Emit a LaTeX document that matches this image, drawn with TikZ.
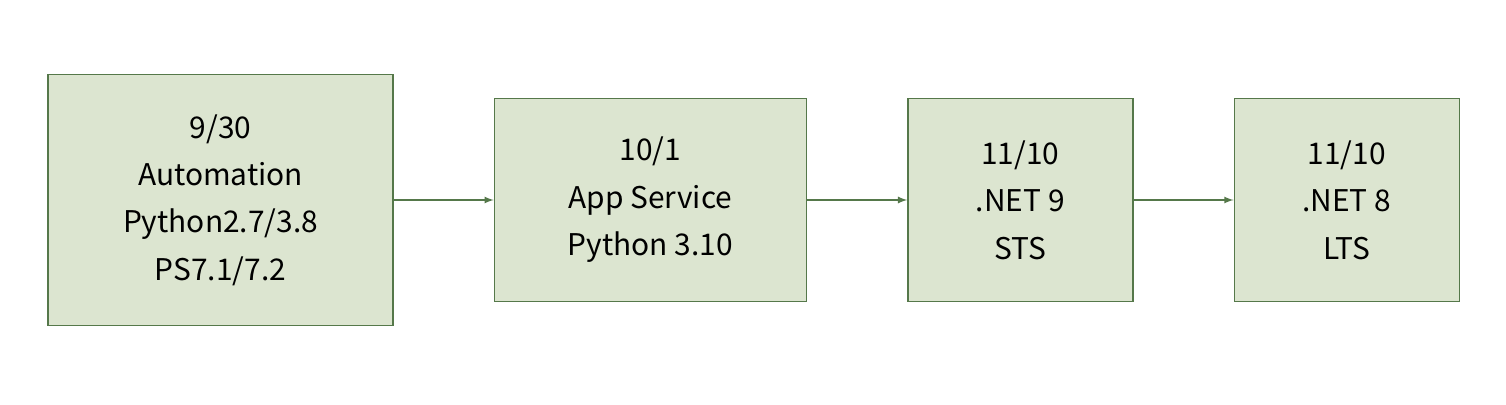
\documentclass[tikz,border=0pt]{standalone}
\usepackage{fontspec}
\setmainfont{Noto Sans CJK JP}
\usetikzlibrary{positioning,arrows}
\definecolor{boxfill}{HTML}{DCE5D0}
\definecolor{boxline}{HTML}{55784A}
\tikzset{>=latex}

\begin{document}
\begin{tikzpicture}[stage/.style = {rectangle, draw=boxline, fill=boxfill, thick, align=center, minimum height=4.06cm, font=\fontsize{17}{27}\selectfont}, -latex]
				\useasboundingbox (0,0) rectangle (30.12,8.08);
				% nodes
				\node[stage, minimum width=6.9cm, minimum height=5.02cm] (automation) at (4.41,4.08) {9/30\\Automation\\Python2.7/3.8\\PS7.1/7.2};
				\node[stage, minimum width=6.24cm, right=2cm of automation.east, anchor=west] (appsvc) {10/1\\App Service\\Python 3.10};
				\node[stage, minimum width=4.5cm, right=2cm of appsvc.east, anchor=west] (net9) {11/10\\.NET 9\\STS};
				\node[stage, minimum width=4.5cm, right=2cm of net9.east, anchor=west] (net8) {11/10\\.NET 8\\LTS};

				% connections
				\draw[boxline, thick] (automation.east) -- (appsvc.west);
				\draw[boxline, thick] (appsvc.east) -- (net9.west);
				\draw[boxline, thick] (net9.east) -- (net8.west);
			\end{tikzpicture}
\end{document}
